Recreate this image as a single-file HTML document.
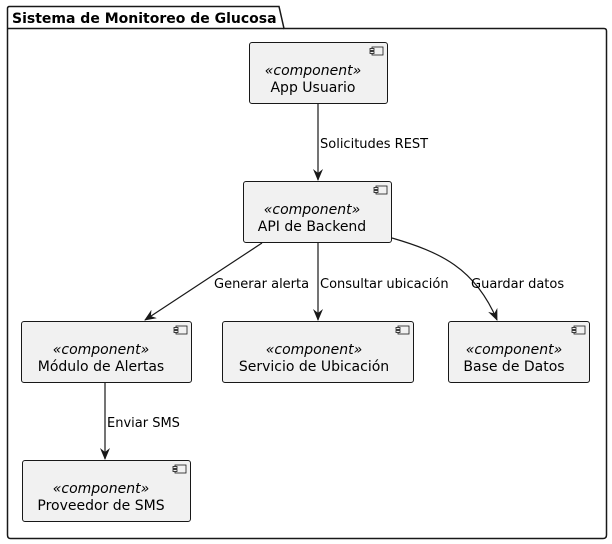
<!DOCTYPE html>
<html><head><meta charset="utf-8"><style>
html,body{margin:0;padding:0;background:#fff;}
svg{display:block;font-family:"DejaVu Sans","Liberation Sans",sans-serif;}
</style></head><body>
<svg width="612" height="544" viewBox="0 0 612 544" xmlns="http://www.w3.org/2000/svg">
<defs>
<marker id="ah" viewBox="0 0 12 10" refX="11" refY="5" markerWidth="12" markerHeight="10" orient="auto" markerUnits="userSpaceOnUse">
<path d="M0,0 L12,5 L0,10 L4,5 Z" fill="#181818"/>
</marker>
<g id="ic"><rect x="0" y="0" width="11" height="8" fill="#f1f1f1" stroke="#181818" stroke-width="0.8"/><rect x="-2" y="1.5" width="4" height="2" fill="#f1f1f1" stroke="#181818" stroke-width="0.8"/><rect x="-2" y="4.5" width="4" height="2" fill="#f1f1f1" stroke="#181818" stroke-width="0.8"/></g>
</defs>
<path d="M7.5,28.5 L7.5,8.5 Q7.5,6.5 9.5,6.5 L279,6.5 L284,28.5 L604,28.5 Q606.5,28.5 606.5,31 L606.5,535 Q606.5,538.5 603,538.5 L10.5,538.5 Q7.5,538.5 7.5,535 Z" fill="none" stroke="#181818" stroke-width="1.5"/>
<line x1="7.5" y1="28.5" x2="284" y2="28.5" stroke="#181818" stroke-width="1.5"/>
<text x="12" y="23" font-size="14" font-weight="bold" fill="#000">Sistema de Monitoreo de Glucosa</text>

<g font-size="14" fill="#000" text-anchor="middle">
<rect x="249.5" y="42.5" width="138" height="61" rx="2.5" fill="#f1f1f1" stroke="#181818"/>
<use href="#ic" x="372" y="47"/>
<text x="313" y="75" font-style="italic">«component»</text><text x="313" y="92">App Usuario</text>

<rect x="243.5" y="181.5" width="148" height="61" rx="2.5" fill="#f1f1f1" stroke="#181818"/>
<use href="#ic" x="376" y="186"/>
<text x="312" y="214" font-style="italic">«component»</text><text x="312" y="231">API de Backend</text>

<rect x="21.5" y="321.5" width="170" height="61" rx="2.5" fill="#f1f1f1" stroke="#181818"/>
<use href="#ic" x="176" y="326"/>
<text x="101" y="354" font-style="italic">«component»</text><text x="101" y="371">Módulo de Alertas</text>

<rect x="222.5" y="321.5" width="191" height="61" rx="2.5" fill="#f1f1f1" stroke="#181818"/>
<use href="#ic" x="398" y="326"/>
<text x="314" y="354" font-style="italic">«component»</text><text x="314" y="371">Servicio de Ubicación</text>

<rect x="448.5" y="321.5" width="141" height="61" rx="2.5" fill="#f1f1f1" stroke="#181818"/>
<use href="#ic" x="574" y="326"/>
<text x="514" y="354" font-style="italic">«component»</text><text x="514" y="371">Base de Datos</text>

<rect x="22.5" y="460.5" width="168" height="61" rx="2.5" fill="#f1f1f1" stroke="#181818"/>
<use href="#ic" x="175" y="465"/>
<text x="101" y="493" font-style="italic">«component»</text><text x="101" y="510">Proveedor de SMS</text>
</g>

<g stroke="#181818" stroke-width="1.2" fill="none">
<line x1="318" y1="104" x2="318" y2="180" marker-end="url(#ah)"/>
<line x1="262" y1="243" x2="145" y2="320" marker-end="url(#ah)"/>
<line x1="318" y1="243" x2="318" y2="320" marker-end="url(#ah)"/>
<path d="M392,238 C440,252 475,268 497,320" marker-end="url(#ah)"/>
<line x1="105" y1="383" x2="105" y2="459" marker-end="url(#ah)"/>
</g>
<g font-size="13" fill="#000">
<text x="320" y="148">Solicitudes REST</text>
<text x="214" y="288">Generar alerta</text>
<text x="320" y="288">Consultar ubicación</text>
<text x="471" y="288">Guardar datos</text>
<text x="107" y="427">Enviar SMS</text>
</g>
</svg>
</body></html>
